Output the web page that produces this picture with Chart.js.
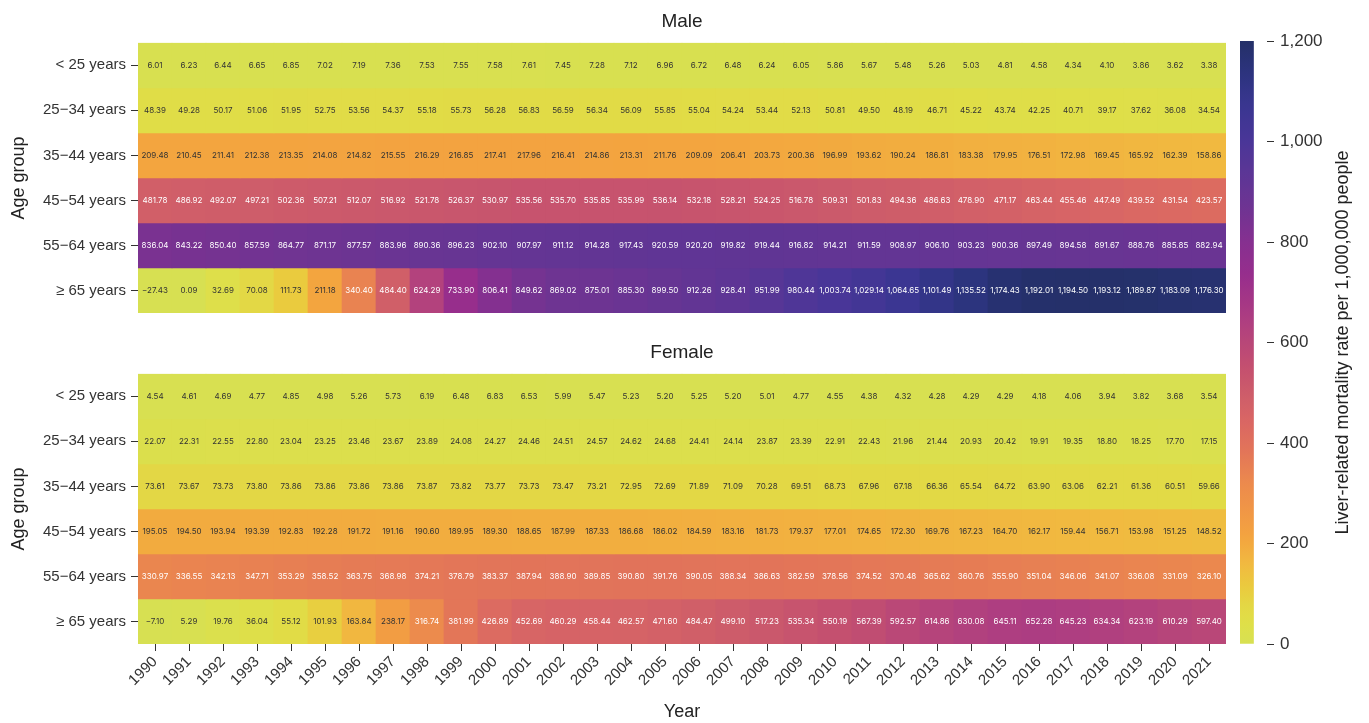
<!DOCTYPE html>
<html><head><meta charset="utf-8">
<script src="https://cdn.jsdelivr.net/npm/chart.js@4.4.1/dist/chart.umd.min.js"></script>
<style>
html,body{margin:0;padding:0;background:#fff;width:1369px;height:723px;overflow:hidden;}
.box{position:absolute;}
</style></head><body>
<div class="box" style="left:0;top:0;width:1240px;height:330px"><canvas id="male"></canvas></div>
<div class="box" style="left:0;top:330px;width:1240px;height:393px"><canvas id="female"></canvas></div>
<div class="box" style="left:1228px;top:0;width:141px;height:723px"><canvas id="cbar"></canvas></div>
<script>
const years = ["1990","1991","1992","1993","1994","1995","1996","1997","1998","1999","2000","2001","2002","2003","2004","2005","2006","2007","2008","2009","2010","2011","2012","2013","2014","2015","2016","2017","2018","2019","2020","2021"];
const ageGroups = ["< 25 years","25\u221234 years","35\u221244 years","45\u221254 years","55\u221264 years","\u2265 65 years"];
const colorbarTicks = [0,200,400,600,800,1000,1200];

const male_lt25 = [6.01,6.23,6.44,6.65,6.85,7.02,7.19,7.36,7.53,7.55,7.58,7.61,7.45,7.28,7.12,6.96,6.72,6.48,6.24,6.05,5.86,5.67,5.48,5.26,5.03,4.81,4.58,4.34,4.10,3.86,3.62,3.38];
const male_25_34 = [48.39,49.28,50.17,51.06,51.95,52.75,53.56,54.37,55.18,55.73,56.28,56.83,56.59,56.34,56.09,55.85,55.04,54.24,53.44,52.13,50.81,49.50,48.19,46.71,45.22,43.74,42.25,40.71,39.17,37.62,36.08,34.54];
const male_35_44 = [209.48,210.45,211.41,212.38,213.35,214.08,214.82,215.55,216.29,216.85,217.41,217.96,216.41,214.86,213.31,211.76,209.09,206.41,203.73,200.36,196.99,193.62,190.24,186.81,183.38,179.95,176.51,172.98,169.45,165.92,162.39,158.86];
const male_45_54 = [481.78,486.92,492.07,497.21,502.36,507.21,512.07,516.92,521.78,526.37,530.97,535.56,535.70,535.85,535.99,536.14,532.18,528.21,524.25,516.78,509.31,501.83,494.36,486.63,478.90,471.17,463.44,455.46,447.49,439.52,431.54,423.57];
const male_55_64 = [836.04,843.22,850.40,857.59,864.77,871.17,877.57,883.96,890.36,896.23,902.10,907.97,911.12,914.28,917.43,920.59,920.20,919.82,919.44,916.82,914.21,911.59,908.97,906.10,903.23,900.36,897.49,894.58,891.67,888.76,885.85,882.94];
const male_65 = [-27.43,0.09,32.69,70.08,111.73,211.18,340.40,484.40,624.29,733.90,806.41,849.62,869.02,875.01,885.30,899.50,912.26,928.41,951.99,980.44,1003.74,1029.14,1064.65,1101.49,1135.52,1174.43,1192.01,1194.50,1193.12,1189.87,1183.09,1176.30];

const female_lt25 = [4.54,4.61,4.69,4.77,4.85,4.98,5.26,5.73,6.19,6.48,6.83,6.53,5.99,5.47,5.23,5.20,5.25,5.20,5.01,4.77,4.55,4.38,4.32,4.28,4.29,4.29,4.18,4.06,3.94,3.82,3.68,3.54];
const female_25_34 = [22.07,22.31,22.55,22.80,23.04,23.25,23.46,23.67,23.89,24.08,24.27,24.46,24.51,24.57,24.62,24.68,24.41,24.14,23.87,23.39,22.91,22.43,21.96,21.44,20.93,20.42,19.91,19.35,18.80,18.25,17.70,17.15];
const female_35_44 = [73.61,73.67,73.73,73.80,73.86,73.86,73.86,73.86,73.87,73.82,73.77,73.73,73.47,73.21,72.95,72.69,71.89,71.09,70.28,69.51,68.73,67.96,67.18,66.36,65.54,64.72,63.90,63.06,62.21,61.36,60.51,59.66];
const female_45_54 = [195.05,194.50,193.94,193.39,192.83,192.28,191.72,191.16,190.60,189.95,189.30,188.65,187.99,187.33,186.68,186.02,184.59,183.16,181.73,179.37,177.01,174.65,172.30,169.76,167.23,164.70,162.17,159.44,156.71,153.98,151.25,148.52];
const female_55_64 = [330.97,336.55,342.13,347.71,353.29,358.52,363.75,368.98,374.21,378.79,383.37,387.94,388.90,389.85,390.80,391.76,390.05,388.34,386.63,382.59,378.56,374.52,370.48,365.62,360.76,355.90,351.04,346.06,341.07,336.08,331.09,326.10];
const female_65 = [-7.10,5.29,19.76,36.04,55.12,101.93,163.84,238.17,316.74,381.99,426.89,452.69,460.29,458.44,462.57,471.60,484.47,499.10,517.23,535.34,550.19,567.39,592.57,614.86,630.08,645.11,652.28,645.23,634.34,623.19,610.29,597.40];

const maleRows = [male_lt25, male_25_34, male_35_44, male_45_54, male_55_64, male_65];
const femaleRows = [female_lt25, female_25_34, female_35_44, female_45_54, female_55_64, female_65];

// colour scale (value -> rgb)
const cmapStops = [
  [0,[215,224,82]],[40,[223,223,72]],[80,[228,214,68]],[110,[234,204,62]],[160,[241,185,64]],
  [210,[243,165,63]],[250,[242,154,68]],[320,[236,138,77]],[380,[227,118,88]],[450,[216,101,101]],
  [500,[205,92,106]],[550,[196,80,111]],[640,[175,63,128]],[730,[152,46,140]],[800,[134,48,144]],
  [870,[110,52,146]],[950,[88,54,150]],[1000,[74,54,152]],[1070,[58,54,145]],[1130,[45,52,128]],[1200,[36,48,104]]
];
const VMAX = 1200;
function colorFor(v){
  v = Math.max(0, Math.min(VMAX, v));
  for(let i=1;i<cmapStops.length;i++){
    const [v1,c1]=cmapStops[i-1],[v2,c2]=cmapStops[i];
    if(v<=v2){
      const t=(v-v1)/(v2-v1);
      const c=c1.map((a,k)=>Math.round(a+(c2[k]-a)*t));
      return `rgb(${c[0]},${c[1]},${c[2]})`;
    }
  }
  const c=cmapStops[cmapStops.length-1][1];
  return `rgb(${c[0]},${c[1]},${c[2]})`;
}
function fmt(v){
  const s=Math.abs(v).toLocaleString('en-US',{minimumFractionDigits:2,maximumFractionDigits:2});
  return v<0?'\u2212'+s:s;
}

const AXIS_FONT = "'Liberation Sans', Arial, sans-serif";
const CELL_FONT = "Inter, 'Noto Sans', sans-serif";
const TXT = '#333333';

const cellLabels = {
  id:'cellLabels',
  afterDatasetsDraw(chart){
    if(!chart.options.plugins.cellLabels || !chart.options.plugins.cellLabels.enabled) return;
    const ctx=chart.ctx; ctx.save();
    ctx.font = "8px " + CELL_FONT; ctx.textAlign='center'; ctx.textBaseline='middle';
    chart.data.datasets.forEach((ds,i)=>{
      const meta=chart.getDatasetMeta(i);
      meta.data.forEach((el,j)=>{
        const v=ds.values[j];
        const p=el.getCenterPoint();
        ctx.fillStyle = v>280 ? '#ffffff' : '#333333';
        ctx.fillText(fmt(v), p.x, p.y+0.5);
      });
    });
    ctx.restore();
  }
};
Chart.register(cellLabels);

function heatmapDatasets(rows){
  return rows.map((vals,r)=>({
    label: ageGroups[r],
    data: years.map(()=>[r, r+1]),
    values: vals,
    backgroundColor: vals.map(colorFor),
    borderWidth: 0,
    barPercentage: 1,
    categoryPercentage: 1,
    grouped: false
  }));
}

function heatmapConfig(rows, title, showX, titlePad){
  return {
    type:'bar',
    data:{ labels: years, datasets: heatmapDatasets(rows) },
    options:{
      responsive:true, maintainAspectRatio:false, animation:false,
      layout:{ padding:{ left:0, right:14, top:0, bottom: showX?0:17 } },
      plugins:{
        legend:{display:false}, tooltip:{enabled:false},
        title:{ display:true, text:title, fullSize:false, color:'#222',
          font:{size:19, family:AXIS_FONT, weight:'normal'}, padding:titlePad },
        cellLabels:{enabled:true}
      },
      scales:{
        x:{ type:'category', display: showX, offset:true,
          grid:{ display:true, drawOnChartArea:false, tickLength:7, color:'#333', offset:false },
          border:{display:false},
          ticks:{ minRotation:45, maxRotation:45, autoSkip:false, color:TXT, font:{size:15, family:AXIS_FONT}, padding:2 },
          title:{ display:true, text:'Year', color:'#222', font:{size:18, family:AXIS_FONT}, padding:{top:0,bottom:0} },
          afterFit(s){ if(showX) s.height = 79; }
        },
        y:{ type:'linear', min:0, max:6, reverse:true,
          afterBuildTicks(s){ s.ticks = ageGroups.map((g,i)=>({value:i+0.5})); },
          ticks:{ callback:(v)=>ageGroups[Math.floor(v)], color:TXT, font:{size:15, family:AXIS_FONT}, padding:5 },
          grid:{ display:true, drawOnChartArea:false, tickLength:7, color:'#333' },
          border:{display:false},
          title:{ display:true, text:'Age group', color:'#222', font:{size:18, family:AXIS_FONT}, padding:{top:8,bottom:0} },
          afterFit(s){ s.width = 138; }
        }
      }
    }
  };
}

new Chart(document.getElementById('male'), heatmapConfig(maleRows, 'Male', false, {top:10,bottom:10}));
new Chart(document.getElementById('female'), heatmapConfig(femaleRows, 'Female', true, {top:11,bottom:10}));

// colour bar
const cbarTitle = {
  id:'cbarTitle',
  afterDraw(chart){
    if(!chart.options.plugins.cbarTitle) return;
    const o = chart.options.plugins.cbarTitle;
    const ca = chart.chartArea; const ctx = chart.ctx;
    ctx.save();
    ctx.translate(o.x, (ca.top+ca.bottom)/2);
    ctx.rotate(-Math.PI/2);
    ctx.font = o.size + "px " + AXIS_FONT; ctx.fillStyle = '#222';
    ctx.textAlign='center'; ctx.textBaseline='middle';
    ctx.fillText(o.text, 0, 0);
    ctx.restore();
  }
};
new Chart(document.getElementById('cbar'), {
  type:'bar',
  data:{ labels:['scale'], datasets:[{
    data:[[colorbarTicks[0], colorbarTicks[colorbarTicks.length-1]]],
    barPercentage:1, categoryPercentage:1, borderWidth:0,
    backgroundColor(ctx){
      const chart=ctx.chart; const ca=chart.chartArea; if(!ca) return null;
      const ys=chart.scales.y;
      const g=chart.ctx.createLinearGradient(0, ys.getPixelForValue(0), 0, ys.getPixelForValue(VMAX));
      for(let v=0; v<=VMAX; v+=20){ g.addColorStop(v/VMAX, colorFor(v)); }
      return g;
    }
  }]},
  options:{
    responsive:true, maintainAspectRatio:false, animation:false,
    layout:{ padding:{ left:12, right:0, top:41, bottom:79 } },
    plugins:{ legend:{display:false}, tooltip:{enabled:false},
      cbarTitle:{ text:'Liver-related mortality rate per 1,000,000 people', x:115, size:18 } },
    scales:{
      x:{ display:false, offset:false },
      y:{ position:'right', min:0, max:VMAX,
        afterBuildTicks(s){ s.ticks = colorbarTicks.map(v=>({value:v})); },
        ticks:{ color:TXT, font:{size:17, family:AXIS_FONT}, padding:6,
          callback:(v)=>Number(v).toLocaleString('en-US') },
        grid:{ display:true, drawOnChartArea:false, tickLength:7, color:'#333' },
        border:{display:false},
        afterFit(s){ s.width = 102; }
      }
    }
  },
  plugins:[cbarTitle]
});
</script>
</body></html>
